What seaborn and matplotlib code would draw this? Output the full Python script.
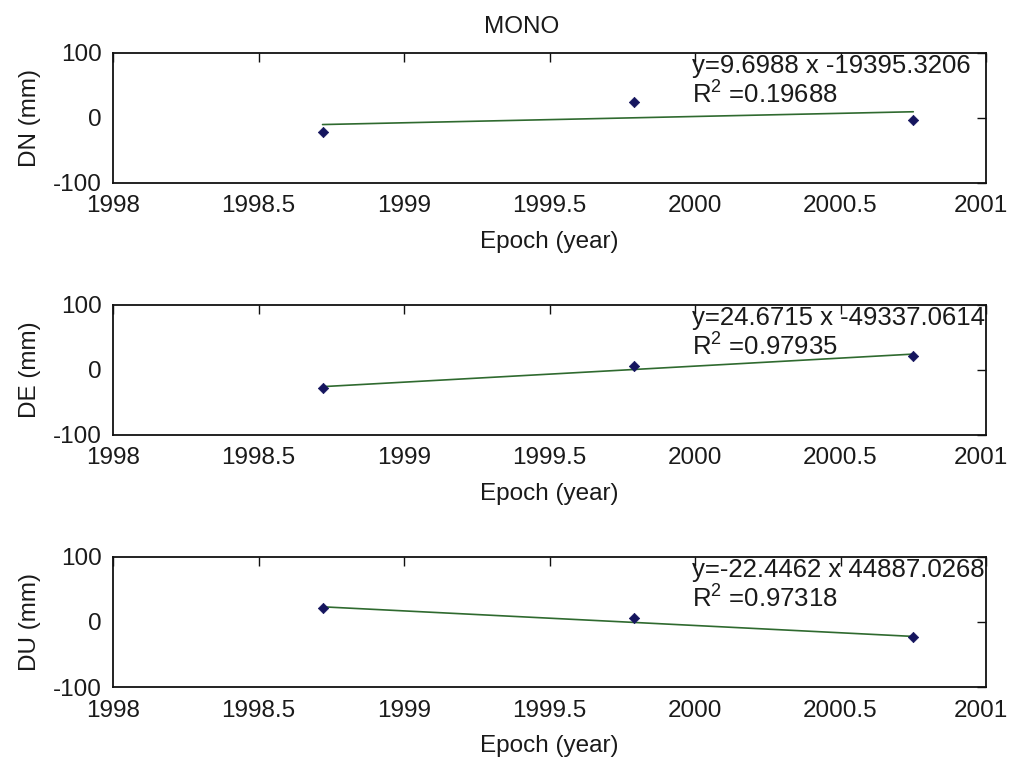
import numpy as np
import pandas as pd
import matplotlib
matplotlib.use("Agg")
import matplotlib.pyplot as plt
import matplotlib.transforms as mtransforms
import seaborn as sns

# Station displacement time series with linear trend fits
station = "MONO"
epochs = [1998.72, 1999.79, 2000.75]
components = ["DN", "DE", "DU"]
dn_mm = [-22.0, 25.0, -3.0]
de_mm = [-27.5, 6.5, 21.5]
du_mm = [21.0, 5.7, -23.5]
slopes = [9.6988, 24.6715, -22.4462]
intercepts = [-19395.3206, -49337.0614, 44887.0268]
r_squared = [0.19688, 0.97935, 0.97318]
x_ticks = [1998, 1998.5, 1999, 1999.5, 2000, 2000.5, 2001]
x_tick_labels = ["1998", "1998.5", "1999", "1999.5", "2000", "2000.5", "2001"]
y_ticks = [-100, 0, 100]
y_tick_labels = ["-100", "0", "100"]

sns.set_theme(style="white")
plt.rcParams["font.family"] = ["Liberation Sans", "DejaVu Sans"]
plt.rcParams["mathtext.fontset"] = "custom"
plt.rcParams["mathtext.rm"] = "Liberation Sans"
plt.rcParams["mathtext.it"] = "Liberation Sans:italic"

TEXT = "#1a1a1a"
FS = 17.5
FS_FIT = 18.5

fig = plt.figure(figsize=(10.11, 7.63), dpi=100)
fig.patch.set_facecolor("white")

left, width, height = 0.1118, 0.8635, 0.1704
bottoms = [0.7602, 0.4299, 0.0996]
series = [dn_mm, de_mm, du_mm]

for i, comp in enumerate(components):
    ax = fig.add_axes([left, bottoms[i], width, height])
    df = pd.DataFrame({"epoch": epochs, "mm": series[i]})

    # fitted trend from the stated coefficients
    ends = np.array([epochs[0], epochs[-1]], dtype=float)
    fit = pd.DataFrame({"epoch": ends, "mm": slopes[i] * ends + intercepts[i]})
    sns.lineplot(data=fit, x="epoch", y="mm", ax=ax, color="#2f6a2f",
                 linewidth=1.2, zorder=2)
    sns.scatterplot(data=df, x="epoch", y="mm", ax=ax, marker="D", s=28,
                    color="#15155e", edgecolor="#15155e", linewidth=0.5, zorder=3)

    ax.set_xlim(1998, 2001)
    ax.set_ylim(-100, 100)
    ax.set_xticks(x_ticks)
    ax.set_xticklabels(x_tick_labels)
    ax.set_yticks(y_ticks)
    ax.set_yticklabels(y_tick_labels)
    ax.tick_params(axis="both", direction="in", length=6.5, width=1.0,
                   top=True, right=True, labelsize=FS, colors="#111111",
                   labelcolor=TEXT)
    ax.tick_params(axis="x", pad=9)
    ax.tick_params(axis="y", pad=8)
    for sp in ax.spines.values():
        sp.set_visible(True)
        sp.set_color("#111111")
        sp.set_linewidth(1.3)
    ax.grid(False)
    ax.set_facecolor("white")

    # keep the last year label inside the figure edge
    last = ax.get_xticklabels()[-1]
    last.set_transform(last.get_transform() +
                       mtransforms.ScaledTranslation(-5 / 100, 0, fig.dpi_scale_trans))

    ax.set_xlabel("Epoch (year)", fontsize=FS, color=TEXT)
    ax.xaxis.set_label_coords(0.5, -0.37)
    ax.set_ylabel(f"{comp} (mm)", fontsize=FS, color=TEXT)
    ax.yaxis.set_label_coords(-0.082, 0.5)

    ax.text(1999.99, 69.2, f"y={slopes[i]:.4f} x {intercepts[i]:.4f}",
            ha="left", va="baseline", fontsize=FS_FIT, color=TEXT)
    ax.text(1999.99, 21.5, f"R$^2$ ={r_squared[i]:.5f}",
            ha="left", va="baseline", fontsize=FS_FIT, color=TEXT)

fig.text(522 / 1011, 1 - 33 / 763, station, ha="center", va="baseline",
         fontsize=FS, color=TEXT)

fig.savefig("out.png", dpi=100, facecolor="white")
